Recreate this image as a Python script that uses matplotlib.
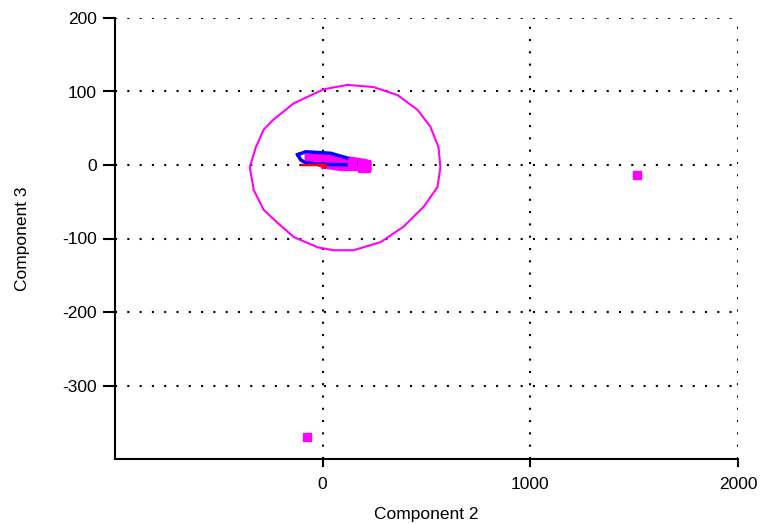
import numpy as np
import matplotlib.pyplot as plt

plt.rcParams['font.family'] = ['Liberation Sans', 'DejaVu Sans']
plt.rcParams['axes.unicode_minus'] = False

# outer confidence contour (Component 2, Component 3)
ring_x = [120, 245, 361, 457, 519, 558, 567, 553, 486, 389, 279, 149, 53, -24,
          -139, -216, -284, -332, -351, -322, -284, -240, -139, 5, 120]
ring_y = [109, 106, 95, 75, 52, 24, -3, -30, -57, -84, -105, -116, -116, -112,
          -98, -79, -61, -34, -3, 24, 48, 61, 84, 103, 109]

# inner blue contour
blue_x = [-120, -82, 38, 111, 168, 159, -10, -82, -106, -120]
blue_y = [14, 18, 16, 10, 3, 0, 1, 3, 7, 14]

# magenta cluster of scores
mag_x = [-82, 38, 135, 207, 231, 231, 173, 87, 15, -19, -82]
mag_y = [14, 14, 10, 7, 4, -7, -7, -7, -4, -1, 7]

# red trace
red_x = [-100, -40, 15, 15, 0]
red_y = [0, 0, 0, -3, -4]

# individual sample points
pts_x = [1515, -77, 197, 140]
pts_y = [-13, -370, -1, 4]
pts_size = [6, 6, 9, 6]

fig = plt.figure(figsize=(7.64, 5.24), dpi=100)
ax = fig.add_axes([115 / 764, 1 - 459 / 524, (738 - 115) / 764, (459 - 18) / 524])

ax.plot(ring_x, ring_y, color='#ff00ff', lw=1.5)
ax.fill(mag_x, mag_y, color='#ff00ff', lw=1.5, edgecolor='#ff00ff')
ax.plot(blue_x, blue_y, color='#0000ff', lw=2.5)
ax.plot(red_x, red_y, color='#ff0000', lw=1.8)
for x, y, s in zip(pts_x, pts_y, pts_size):
    ax.plot(x, y, 's', color='#ff00ff', ms=s, mec='#ff00ff')

ax.set_xlim(-1000, 2000)
ax.set_ylim(-400, 200)
ax.set_xticks([0, 1000, 2000])
ax.set_yticks([-300, -200, -100, 0, 100, 200])
ax.grid(True, color='black', linestyle=(0, (1.0, 4.9)), linewidth=1.5)
ax.spines['top'].set_visible(False)
ax.spines['right'].set_visible(False)
ax.spines['left'].set_linewidth(1.5)
ax.spines['bottom'].set_linewidth(1.5)
ax.tick_params(direction='out', width=1.5, labelsize=12.5)
ax.tick_params(axis='x', length=6, pad=7)
ax.tick_params(axis='y', length=9, pad=4)
ax.set_xlabel('Component 2', fontsize=12.5)
ax.set_ylabel('Component 3', fontsize=12.5)
ax.xaxis.set_label_coords(0.5, -0.109)
ax.yaxis.set_label_coords(-0.136, 0.5)

fig.savefig('out.png', dpi=100)
